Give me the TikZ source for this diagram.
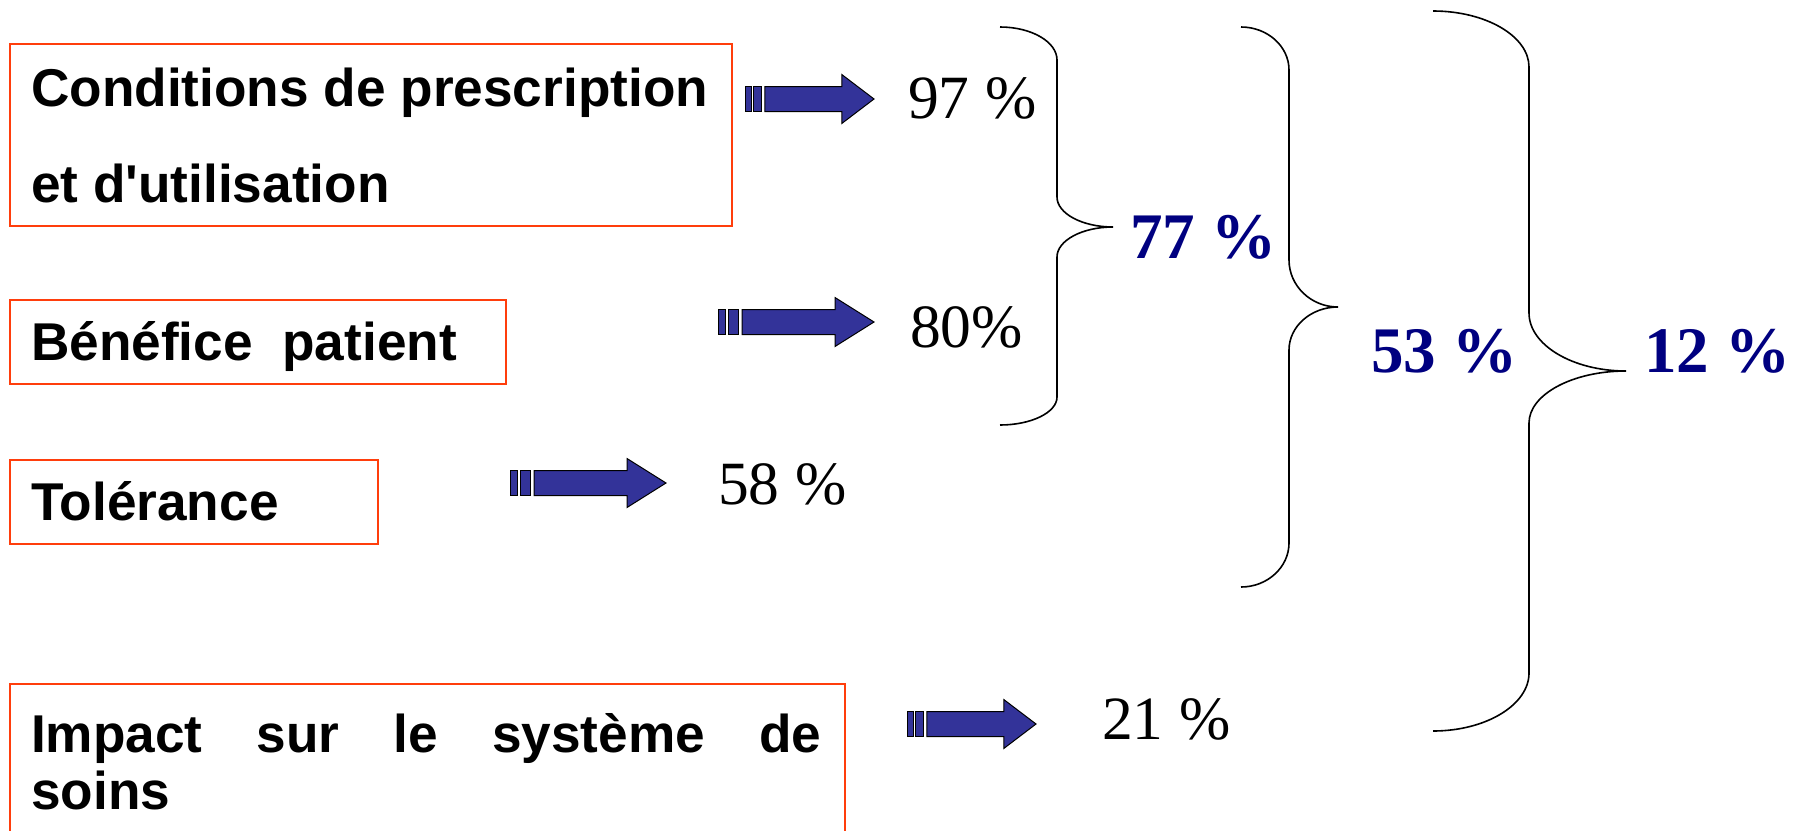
\documentclass[tikz,border=0pt]{standalone}
\usepackage{fontspec}
\setmainfont{Liberation Serif}
\newfontfamily\labelfont{Liberation Sans}
\definecolor{boxred}{RGB}{255,62,12}
\definecolor{arrowblue}{RGB}{51,51,153}
\definecolor{sumblue}{RGB}{0,0,128}
\tikzset{
  tbox/.style={draw=boxred, line width=1.8pt, rectangle, inner sep=0pt, anchor=north west},
  txt/.style={inner sep=0pt, anchor=base west},
  crit/.style={txt, font=\labelfont\bfseries\fontsize{53.2}{60}\selectfont},
  score/.style={txt, font=\fontsize{61.5}{70}\selectfont},
  total/.style={txt, text=sumblue, font=\bfseries\fontsize{65}{72}\selectfont},
  brace line/.style={draw=black, line width=1.6pt},
  arrow part/.style={fill=arrowblue, draw=black, line width=1pt, line join=miter},
  pics/barrow/.style={code={
    \path[arrow part] (0,-12.5) rectangle (7.5,12.5);
    \path[arrow part] (10.5,-12.5) rectangle (20.5,12.5);
    \path[arrow part] (24,-12.5) -- (117,-12.5) -- (117,-24.5) -- (156,0)
      -- (117,24.5) -- (117,12.5) -- (24,12.5) -- cycle;
  }}
}
\begin{document}
\begin{tikzpicture}[x=1pt,y=-1pt]
\useasboundingbox (0,0) rectangle (1803,830);
\clip (0,0) rectangle (1803,830);

% criteria boxes
\node[tbox, minimum width=722pt, minimum height=182pt] (b1) at (9,43) {};
\node[tbox, minimum width=496pt, minimum height=84pt] (b2) at (9,299) {};
\node[tbox, minimum width=368pt, minimum height=84pt] (b3) at (9,459) {};
\node[tbox, minimum width=835pt, minimum height=180pt] (b4) at (9,683) {};

\node[crit] (t1a) at (31,106) {Conditions de prescription};
\node[crit] (t1b) at (31,202) {et d'utilisation};
\node[crit] (t2) at (31,360) {Bénéfice\ \ patient};
\node[crit] (t3) at (31,520) {Tolérance};
\node[crit] (t4a) at (31,752) {\makebox[790pt][s]{Impact sur le système de}};
\node[crit] (t4b) at (31,809) {soins};

% block arrows
\pic[xscale=0.827] (a1) at (745,99) {barrow};
\pic (a2) at (718,322) {barrow};
\pic (a3) at (510,483) {barrow};
\pic[xscale=0.827] (a4) at (907,724) {barrow};

% individual scores
\node[score] (s1) at (908,118) {97 \%};
\node[score] (s2) at (910,347) {80\%};
\node[score] (s3) at (718,504) {58 \%};
\node[score] (s4) at (1102,739) {21 \%};

% grouping braces
\path[brace line] (1000,27) .. controls (1031.4,27) and (1057,41.8) .. (1057,60)
  -- (1057,197) .. controls (1057,213.5) and (1082.2,227) .. (1113,227)
  .. controls (1082.2,227) and (1057,240.5) .. (1057,257)
  -- (1057,397) .. controls (1057,412.4) and (1031.4,425) .. (1000,425);
\path[brace line] (1241,27) .. controls (1267.4,27) and (1289,46.3) .. (1289,70)
  -- (1289,260) .. controls (1289,285.9) and (1311,307) .. (1338,307)
  .. controls (1311,307) and (1289,326.3) .. (1289,350)
  -- (1289,543) .. controls (1289,567.2) and (1267.4,587) .. (1241,587);
\path[brace line] (1433,11) .. controls (1485.8,11) and (1529,36.2) .. (1529,67)
  -- (1529,313) .. controls (1529,344.9) and (1572.6,371) .. (1626,371)
  .. controls (1572.6,371) and (1529,394.4) .. (1529,423)
  -- (1529,673) .. controls (1529,704.9) and (1485.8,731) .. (1433,731);

% combined scores
\node[total] (g1) at (1130,258) {77 \%};
\node[total] (g2) at (1371,372) {53 \%};
\node[total] (g3) at (1644,372) {12 \%};
\end{tikzpicture}
\end{document}
